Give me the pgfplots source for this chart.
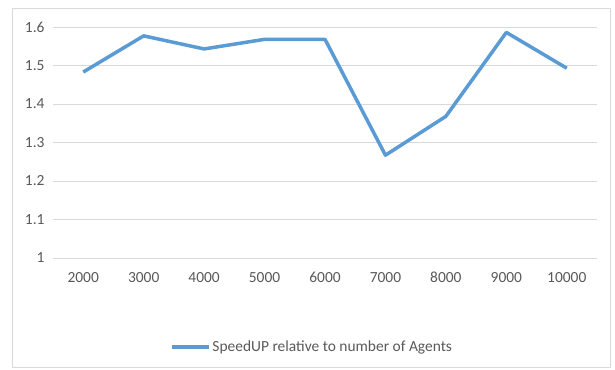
\documentclass[border=0pt]{standalone}
\usepackage{fontspec}
\setmainfont{Carlito}
\usepackage{pgfplots}
\pgfplotsset{compat=1.18}

\definecolor{seriesblue}{RGB}{91,155,213}
\definecolor{gridgray}{RGB}{217,217,217}
\definecolor{textgray}{RGB}{89,89,89}

\pgfplotstableread{
idx speedup
0 1.483
1 1.577
2 1.543
3 1.568
4 1.568
5 1.267
6 1.368
7 1.586
8 1.493
}\speeduptable

\begin{document}
\begin{tikzpicture}[x=1bp,y=1bp]
  % page frame and chart border
  \path (0,0) rectangle (615,369);
  \draw[gridgray, line width=0.75bp] (12,2) rectangle (610,361);
  \begin{axis}[
    at={(53bp,111bp)}, anchor=south west,
    scale only axis, width=544bp, height=231bp,
    xmin=-0.5, xmax=8.5, ymin=1, ymax=1.6,
    xtick=data,
    xticklabels={2000,3000,4000,5000,6000,7000,8000,9000,10000},
    ytick={1,1.1,1.2,1.3,1.4,1.5,1.6},
    yticklabels={1,1.1,1.2,1.3,1.4,1.5,1.6},
    axis line style={draw=none},
    major tick length=0pt,
    ymajorgrids, major grid style={gridgray, line width=0.9bp},
    tick label style={font=\fontsize{15.5}{18}\selectfont, text=textgray},
    /pgf/number format/assume math mode=true,
    xticklabel style={yshift=-10bp, text height=11bp, text depth=2bp},
    yticklabel style={xshift=-5bp},
    legend style={at={(0.476,-0.385)}, anchor=center, draw=none, fill=none,
      font=\fontsize{15.5}{18}\selectfont, text=textgray,
      legend cell align=left, nodes={inner xsep=1.5bp}},
    legend image code/.code={\draw[#1, line width=3.5bp] (0bp,0bp) -- (37bp,0bp);},
  ]
    \addplot[seriesblue, line width=3.5bp, line join=round] table[x=idx, y=speedup] {\speeduptable};
    \addlegendentry{SpeedUP relative to number of Agents}
  \end{axis}
\end{tikzpicture}
\end{document}
